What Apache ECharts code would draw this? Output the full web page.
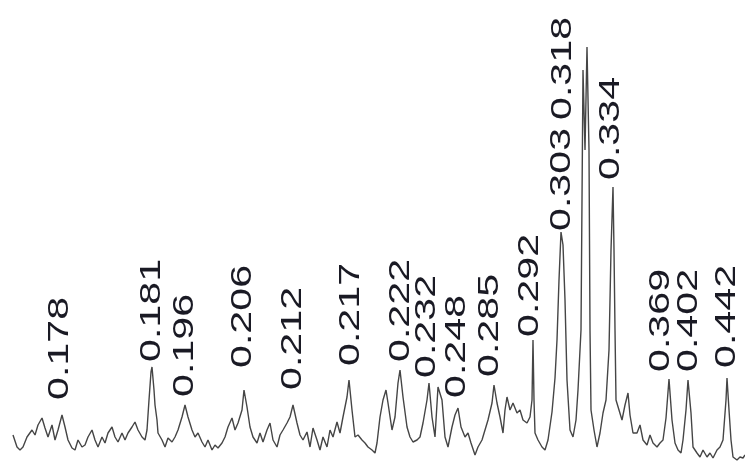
<!DOCTYPE html>
<html>
<head>
<meta charset="utf-8">
<script src="https://cdn.jsdelivr.net/npm/echarts@6/dist/echarts.min.js"></script>
<style>html,body{margin:0;padding:0;background:#fff;}#c{width:745px;height:468px;}</style>
</head>
<body>
<div id="c"></div>
<script>
// Spectrum trace: position (arbitrary scan units) and intensity (arbitrary units)
var tracePos = [13,17,20,23,27,32,35,38,42,45,48,52,55,58,62,65,68,72,75,78,82,85,88,92,95,98,102,105,108,112,115,118,122,125,128,132,135,138,142,145,147,149,151,152,154,155,157,158,162,165,168,172,175,178,182,185,188,192,195,198,202,205,208,212,215,218,222,225,228,232,235,238,242,244,247,250,253,257,260,263,267,270,273,277,280,283,287,290,293,297,300,303,307,310,313,317,320,323,327,330,333,337,340,343,347,349,352,355,358,362,365,368,372,375,377,380,383,386,388,392,395,398,400,403,407,410,413,417,420,423,427,429,432,435,438,442,445,448,452,455,458,461,465,468,471,475,478,482,485,488,492,494,497,500,503,505,507,510,513,517,520,523,527,530,532,533,534,535,538,542,545,548,552,555,557,559,561,563,565,567,570,573,576,578,581,583,585,587,589,590,591,594,597,600,603,606,609,611,613,614,615,616,619,622,625,628,630,633,637,640,643,647,650,653,657,660,663,666,669,672,675,678,681,683,686,688,691,693,697,700,703,707,710,713,717,720,723,726,727,729,731,733,737,740,743,745];
var traceScreenY = [435,447,450,447,437,430,435,425,418,428,437,425,440,430,415,427,440,448,450,440,447,445,437,430,440,447,437,443,433,427,437,442,433,440,433,427,422,430,437,440,430,400,372,367,390,405,420,433,440,447,438,442,437,430,417,405,417,430,437,433,442,447,440,450,445,448,443,437,427,418,430,423,410,390,407,427,437,443,433,442,430,423,440,447,435,430,423,417,405,423,435,440,432,447,428,440,450,437,447,430,437,422,433,417,397,380,410,437,435,440,443,447,450,453,443,417,400,390,403,430,417,383,370,397,427,437,442,440,437,423,400,383,417,437,387,400,437,447,427,415,408,427,437,433,443,455,447,440,430,420,403,385,403,417,433,410,397,410,403,413,410,420,423,417,400,340,400,433,440,447,450,440,412,378,340,280,232,245,300,380,430,437,420,390,330,70,150,47,150,330,410,430,447,433,413,400,350,250,187,250,330,400,410,420,405,393,415,433,433,425,440,445,435,443,447,443,440,418,379,420,443,450,453,440,410,380,413,447,453,457,450,457,453,458,450,447,440,400,378,410,440,457,460,457,458,455];
var FRAME_H = 468;
var traceIntensity = traceScreenY.map(function (v) { return FRAME_H - v; });

// Peak labels
var peakLabels = ['0.178','0.181','0.196','0.206','0.212','0.217','0.222','0.232','0.248','0.285','0.292','0.303','0.318','0.334','0.369','0.402','0.442'];
var peakLabelPos = [60,152,185,243,293,351,401,427,457,490,530,562,563,611,661,689,727];
var peakLabelLevel = [68,106,71,100,78,102,106,90,70,91,131,237,348,288,96,96,100];

var traceData = tracePos.map(function (x, i) { return [x, traceIntensity[i]]; });
var labelData = peakLabelPos.map(function (x, i) { return [x, peakLabelLevel[i], peakLabels[i]]; });

var chart = echarts.init(document.getElementById('c'), null, {renderer: 'canvas'});
chart.setOption({
  animation: false,
  backgroundColor: '#ffffff',
  grid: {left: 0, right: 0, top: 0, bottom: 0},
  xAxis: {type: 'value', min: 0, max: 745, show: false},
  yAxis: {type: 'value', min: 0, max: 468, show: false},
  series: [
    {
      type: 'line',
      data: traceData,
      showSymbol: false,
      smooth: false,
      lineStyle: {color: '#454545', width: 1.4},
      z: 2
    },
    {
      type: 'custom',
      data: labelData,
      z: 3,
      renderItem: function (params, api) {
        var p = api.coord([api.value(0), api.value(1)]);
        return {
          type: 'text',
          x: p[0],
          y: p[1],
          rotation: Math.PI / 2,
          scaleX: 1.42,
          scaleY: 1,
          style: {
            text: peakLabels[params.dataIndex],
            font: '29px "Liberation Sans", Arial, sans-serif',
            fill: '#1a1a24',
            align: 'left',
            verticalAlign: 'middle',
            textAlign: 'left',
            textVerticalAlign: 'middle'
          }
        };
      }
    }
  ]
});
</script>
</body>
</html>
